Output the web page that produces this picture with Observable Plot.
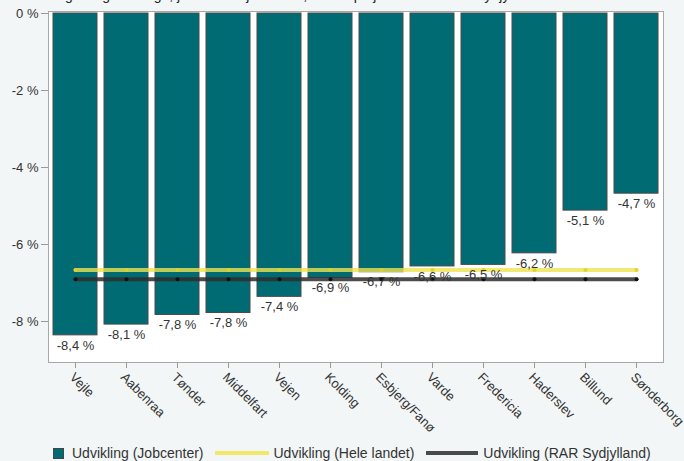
<!DOCTYPE html>
<html>
<head>
<meta charset="utf-8">
<script src="https://cdn.jsdelivr.net/npm/d3@7"></script>
<script src="https://cdn.jsdelivr.net/npm/@observablehq/plot@0.6"></script>
<style>
  html, body { margin: 0; padding: 0; background: #f2f6f6; }
  body { width: 684px; height: 461px; overflow: hidden; position: relative; font-family: "Liberation Sans", Arial, sans-serif; }
  #title { position: absolute; left: 16px; top: -12px; font-size: 14px; line-height: 14px; color: #222; white-space: nowrap; }
  #chart { position: absolute; left: 0; top: 0; }
  #legend { position: absolute; left: 53px; top: 445px; display: flex; align-items: center; font-size: 14px; line-height: 16px; color: #333; white-space: nowrap; }
  .sq { width: 9px; height: 9px; background: #006b73; border: 1px solid #444; margin-right: 8px; }
  .ln { width: 54px; height: 4px; margin-left: 11px; margin-right: 5px; }
</style>
</head>
<body>
<div id="title">Udvikling i langtidsledige, juni 2020 - juni 2021, fordelt på jobcentre i RAR Sydjylland</div>
<div id="chart"></div>
<div id="legend">
  <div class="sq"></div><span>Udvikling (Jobcenter)</span>
  <div class="ln" style="background:#f1e86a"></div><span>Udvikling (Hele landet)</span>
  <div class="ln" style="background:#4a4a4a; margin-left:12px; width:52px"></div><span>Udvikling (RAR Sydjylland)</span>
</div>
<script>
const names = ["Vejle","Aabenraa","Tønder","Middelfart","Vejen","Kolding","Esbjerg/Fanø","Varde","Fredericia","Haderslev","Billund","Sønderborg"];
const jobcenter = [-8.36,-8.08,-7.83,-7.78,-7.36,-6.87,-6.72,-6.57,-6.53,-6.23,-5.12,-4.68];
const heleLandet = [-6.66,-6.66,-6.66,-6.66,-6.66,-6.66,-6.66,-6.66,-6.66,-6.66,-6.66,-6.66];
const rarSydjylland = [-6.9,-6.9,-6.9,-6.9,-6.9,-6.9,-6.9,-6.9,-6.9,-6.9,-6.9,-6.9];
const yTicks = [0,-2,-4,-6,-8];

const rows = names.map((n, i) => ({name: n, job: jobcenter[i], hele: heleLandet[i], rar: rarSydjylland[i]}));
const fmt = v => `${v.toFixed(1).replace(".", ",")} %`;

const chart = Plot.plot({
  width: 684,
  height: 440,
  marginLeft: 48,
  marginRight: 21,
  marginTop: 11,
  marginBottom: 78,
  style: {fontFamily: "'Liberation Sans', Arial, sans-serif", fontSize: "13px", color: "#333", background: "transparent"},
  x: {type: "band", domain: names, paddingInner: 0.14, paddingOuter: 0.08, label: null},
  y: {domain: [-9.065, 0.052], label: null},
  marks: [
    Plot.frame({fill: "white", stroke: null}),
    Plot.barY(rows, {x: "name", y: "job", fill: "#006b73", stroke: "#4a4a4a", strokeWidth: 1}),
    Plot.lineY(rows, {x: "name", y: "hele", stroke: "#eee34f", strokeOpacity: 0.8, strokeWidth: 4}),
    Plot.dot(rows, {x: "name", y: "hele", r: 2, fill: "#ddd22a", fillOpacity: 0.9}),
    Plot.lineY(rows, {x: "name", y: "rar", stroke: "#2e2e2e", strokeOpacity: 0.85, strokeWidth: 4}),
    Plot.dot(rows, {x: "name", y: "rar", r: 2, fill: "#111"}),
    Plot.text(rows, {x: "name", y: "job", text: d => fmt(d.job), lineAnchor: "top", dy: 5, fontSize: 13, fill: "#333"}),
    Plot.frame({stroke: "#a8a8a8", strokeWidth: 1}),
    Plot.axisY({ticks: yTicks, tickFormat: d => `${d} %`, tickSize: 7, tickPadding: 3, stroke: "#999", fill: "#333", fontSize: 13, label: null}),
    Plot.axisX({tickRotate: 45, textAnchor: "start", lineAnchor: "top", tickSize: 6, tickPadding: 3, stroke: "#999", fill: "#333", fontSize: 13, label: null})
  ]
});
document.getElementById("chart").appendChild(chart);
</script>
</body>
</html>
